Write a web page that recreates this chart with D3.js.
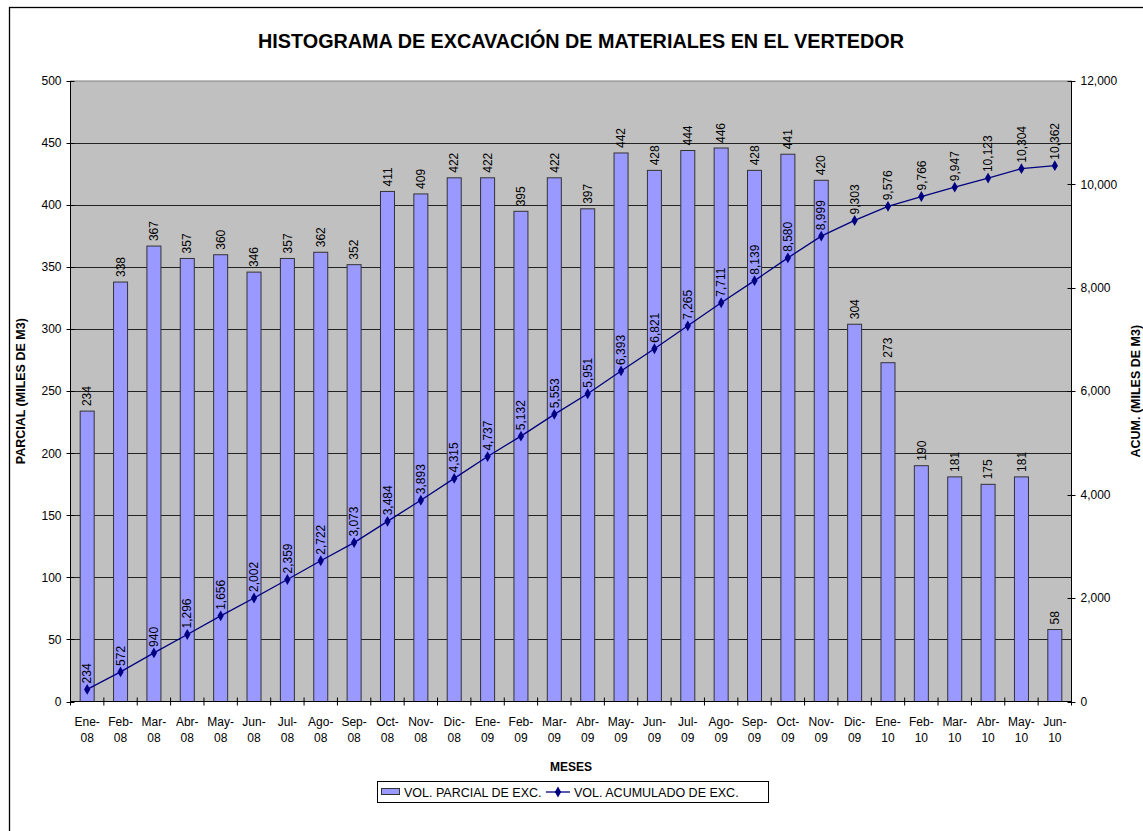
<!DOCTYPE html>
<html>
<head>
<meta charset="utf-8">
<script src="https://cdn.jsdelivr.net/npm/d3@7"></script>
<style>
	body { margin:0; background:#fff; }
	svg { display:block; font-family: Arial, "Liberation Sans", sans-serif; }
</style>
</head>
<body>
<svg id="chart" width="1143" height="831"></svg>
<script>
// months (two lines each)
var months = ["Ene-08","Feb-08","Mar-08","Abr-08","May-08","Jun-08","Jul-08","Ago-08","Sep-08","Oct-08","Nov-08","Dic-08",
			  "Ene-09","Feb-09","Mar-09","Abr-09","May-09","Jun-09","Jul-09","Ago-09","Sep-09","Oct-09","Nov-09","Dic-09",
			  "Ene-10","Feb-10","Mar-10","Abr-10","May-10","Jun-10"];
var parcial = [234,338,367,357,360,346,357,362,352,411,409,422,422,395,422,397,442,428,444,446,428,441,420,304,273,190,181,175,181,58];
var acumulado = [234,572,940,1296,1656,2002,2359,2722,3073,3484,3893,4315,4737,5132,5553,5951,6393,6821,7265,7711,8139,8580,8999,9303,9576,9766,9947,10123,10304,10362];
var leftTicks = [0,50,100,150,200,250,300,350,400,450,500];
var rightTicks = [0,2000,4000,6000,8000,10000,12000];

var titleText = "HISTOGRAMA DE EXCAVACIÓN DE MATERIALES EN EL VERTEDOR";
var seriesNames = ["VOL. PARCIAL DE EXC.", "VOL. ACUMULADO DE EXC."];

var svg = d3.select("#chart");
var fmt = d3.format(",");

// plot box (note: "top" is taken by window.top)
var pL = 70.5, pR = 1071.5, pT = 81, pB = 701.5;

// outer frame
svg.append("rect")
	.attr("x", 9.5).attr("y", 7.5)
	.attr("width", 1150).attr("height", 840)
	.attr("fill", "#fff").attr("stroke", "#000").attr("stroke-width", 1.3);

var x = d3.scaleBand().domain(months).range([pL, pR]).padding(0);
var yL = d3.scaleLinear().domain([0, 500]).range([pB, pT]);
var yR = d3.scaleLinear().domain([0, 12000]).range([pB, pT]);

// plot area
svg.append("rect")
	.attr("x", pL).attr("y", pT)
	.attr("width", pR - pL).attr("height", pB - pT)
	.attr("fill", "#C0C0C0").attr("stroke", "#808080");

// gridlines
svg.append("g")
	.selectAll("line")
	.data(leftTicks.slice(1, -1))
	.enter().append("line")
		.attr("x1", pL).attr("x2", pR)
		.attr("y1", function(d){ return Math.round(yL(d)) + 0.5; })
		.attr("y2", function(d){ return Math.round(yL(d)) + 0.5; })
		.attr("stroke", "#222").attr("stroke-width", 1);

// bars
var bw = x.bandwidth() * 0.42;
svg.append("g")
	.selectAll("rect")
	.data(parcial)
	.enter().append("rect")
		.attr("x", function(d, i){ return x(months[i]) + (x.bandwidth() - bw) / 2; })
		.attr("y", function(d){ return yL(d); })
		.attr("width", bw)
		.attr("height", function(d){ return pB - yL(d); })
		.attr("fill", "#9999FF")
		.attr("stroke", "#333").attr("stroke-width", 1);

// bar labels
svg.append("g")
	.selectAll("text")
	.data(parcial)
	.enter().append("text")
		.attr("transform", function(d, i){
			var c = x(months[i]) + x.bandwidth() / 2;
			return "translate(" + c + "," + (yL(d) - 5) + ") rotate(-90)";
		})
		.attr("dy", "0.35em")
		.attr("font-size", 12)
		.text(function(d){ return d; });

// cumulative line
var cx = function(i){ return x(months[i]) + x.bandwidth() / 2; };
var line = d3.line()
	.x(function(d, i){ return cx(i); })
	.y(function(d){ return yR(d); });
svg.append("path")
	.datum(acumulado)
	.attr("d", line)
	.attr("fill", "none")
	.attr("stroke", "#000080").attr("stroke-width", 1.3);

var diamond = d3.symbol().type(d3.symbolDiamond).size(34);
svg.append("g")
	.selectAll("path")
	.data(acumulado)
	.enter().append("path")
		.attr("d", diamond)
		.attr("transform", function(d, i){ return "translate(" + cx(i) + "," + yR(d) + ")"; })
		.attr("fill", "#000080");

svg.append("g")
	.selectAll("text")
	.data(acumulado)
	.enter().append("text")
		.attr("transform", function(d, i){
			return "translate(" + cx(i) + "," + (yR(d) - 6) + ") rotate(-90)";
		})
		.attr("dy", "0.35em")
		.attr("font-size", 12)
		.text(function(d){ return fmt(d); });

// left axis
var axL = svg.append("g");
axL.append("line").attr("x1", pL).attr("x2", pL).attr("y1", pT).attr("y2", pB).attr("stroke", "#000");
axL.selectAll("line.t").data(leftTicks).enter().append("line")
	.attr("class", "t")
	.attr("x1", pL - 4).attr("x2", pL + 4)
	.attr("y1", function(d){ return Math.round(yL(d)) + 0.5; })
	.attr("y2", function(d){ return Math.round(yL(d)) + 0.5; })
	.attr("stroke", "#000");
axL.selectAll("text").data(leftTicks).enter().append("text")
	.attr("x", pL - 9)
	.attr("y", function(d){ return yL(d); })
	.attr("dy", "0.35em")
	.attr("text-anchor", "end")
	.attr("font-size", 12)
	.text(function(d){ return d; });

// right axis
var axR = svg.append("g");
axR.append("line").attr("x1", pR).attr("x2", pR).attr("y1", pT).attr("y2", pB).attr("stroke", "#000");
axR.selectAll("line.t").data(rightTicks).enter().append("line")
	.attr("class", "t")
	.attr("x1", pR - 4).attr("x2", pR + 4)
	.attr("y1", function(d){ return Math.round(yR(d)) + 0.5; })
	.attr("y2", function(d){ return Math.round(yR(d)) + 0.5; })
	.attr("stroke", "#000");
axR.selectAll("text").data(rightTicks).enter().append("text")
	.attr("x", pR + 9)
	.attr("y", function(d){ return yR(d); })
	.attr("dy", "0.35em")
	.attr("font-size", 12)
	.text(function(d){ return fmt(d); });

// bottom axis
var axB = svg.append("g");
axB.append("line").attr("x1", pL).attr("x2", pR).attr("y1", pB).attr("y2", pB).attr("stroke", "#000");
axB.selectAll("line.t").data(d3.range(months.length + 1)).enter().append("line")
	.attr("class", "t")
	.attr("x1", function(i){ return pL + i * x.bandwidth(); })
	.attr("x2", function(i){ return pL + i * x.bandwidth(); })
	.attr("y1", pB - 4).attr("y2", pB + 4)
	.attr("stroke", "#000");
var xl = axB.selectAll("text").data(months).enter().append("text")
	.attr("text-anchor", "middle")
	.attr("font-size", 12);
xl.append("tspan")
	.attr("x", function(d, i){ return cx(i); })
	.attr("y", 726)
	.text(function(d){ return d.split("-")[0] + "-"; });
xl.append("tspan")
	.attr("x", function(d, i){ return cx(i); })
	.attr("y", 742)
	.text(function(d){ return d.split("-")[1]; });

// titles
svg.append("text")
	.attr("x", 581).attr("y", 48)
	.attr("text-anchor", "middle")
	.attr("font-size", 19.8).attr("font-weight", "bold")
	.text(titleText);
svg.append("text")
	.attr("x", 571).attr("y", 771)
	.attr("text-anchor", "middle")
	.attr("font-size", 12).attr("font-weight", "bold")
	.text("MESES");
svg.append("text")
	.attr("transform", "translate(25," + (pT + pB) / 2 + ") rotate(-90)")
	.attr("text-anchor", "middle")
	.attr("font-size", 12.5).attr("font-weight", "bold")
	.text("PARCIAL (MILES DE M3)");
svg.append("text")
	.attr("transform", "translate(1140," + (pT + pB) / 2 + ") rotate(-90)")
	.attr("text-anchor", "middle")
	.attr("font-size", 12.5).attr("font-weight", "bold")
	.text("ACUM. (MILES DE M3)");

// legend
var lg = svg.append("g");
lg.append("rect")
	.attr("x", 377.5).attr("y", 781.5).attr("width", 391).attr("height", 21)
	.attr("fill", "#fff").attr("stroke", "#000");
lg.append("rect")
	.attr("x", 381.5).attr("y", 788.5).attr("width", 18).attr("height", 6)
	.attr("fill", "#9999FF").attr("stroke", "#333");
lg.append("text")
	.attr("x", 404).attr("y", 796.5)
	.attr("font-size", 12.5)
	.text(seriesNames[0]);
lg.append("line")
	.attr("x1", 546).attr("x2", 570).attr("y1", 792).attr("y2", 792)
	.attr("stroke", "#000080").attr("stroke-width", 1.3);
lg.append("path")
	.attr("d", diamond)
	.attr("transform", "translate(558,792)")
	.attr("fill", "#000080");
lg.append("text")
	.attr("x", 574).attr("y", 796.5)
	.attr("font-size", 12.5)
	.text(seriesNames[1]);
</script>
</body>
</html>
